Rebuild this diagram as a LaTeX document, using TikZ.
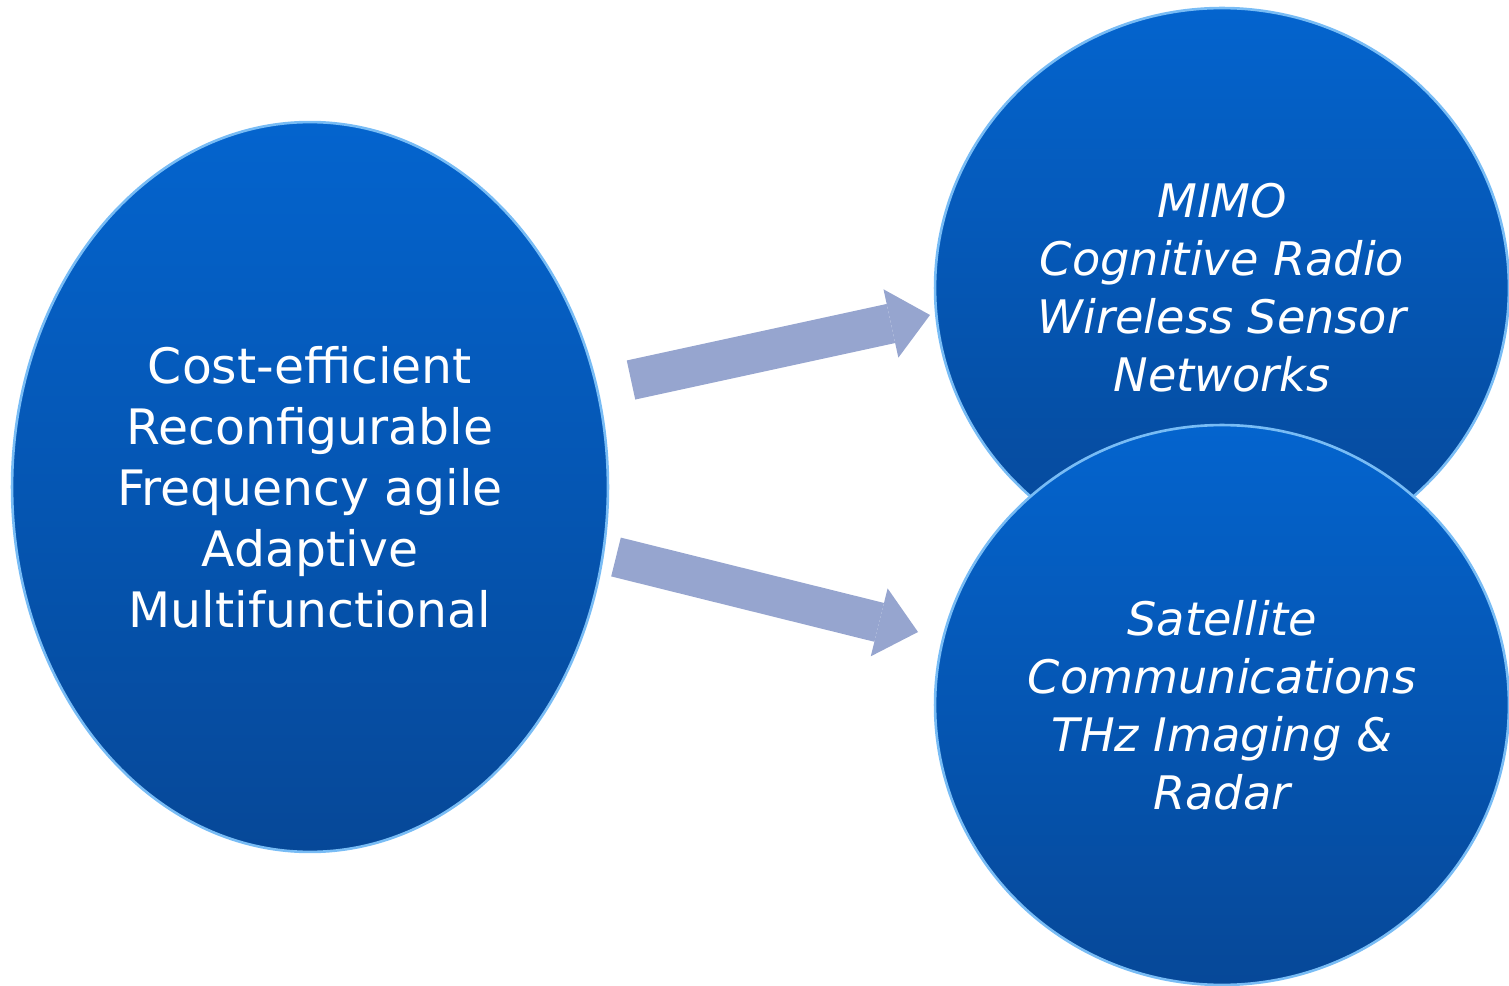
\documentclass[tikz,border=0pt]{standalone}
\usepackage{fontspec}
\setmainfont{DejaVu Sans}
\usetikzlibrary{shapes.geometric,arrows.meta}

\definecolor{bubtop}{RGB}{4,100,206}
\definecolor{bubbot}{RGB}{6,72,152}
\definecolor{bubrim}{RGB}{120,188,245}
\definecolor{arrfill}{RGB}{150,165,207}

\begin{document}
\begin{tikzpicture}[x=0.02cm, y=-0.02cm]
      \tikzstyle{STY1} = [ellipse, inner sep=0pt, top color=bubtop, bottom color=bubbot, draw=bubrim, line width=1.5pt, text=white, align=center]
      \tikzstyle{STY2} = [line width=0.8cm, draw=arrfill, -{Triangle[line width=0pt, length=0.8cm, width=1.4cm, fill=arrfill]}]

      \useasboundingbox (0,0) rectangle (1509,986);

      %%%%% BUBBLES

      \node[STY1, minimum width=11.92cm, minimum height=14.6cm, font=\fontsize{27.8}{34.7}\selectfont](c0) at (310,487)
        {Cost-efficient\\Reconfigurable\\Frequency agile\\Adaptive\\Multifunctional};

      \node[STY1, minimum width=11.48cm, minimum height=11.2cm, font=\fontsize{26.3}{33}\selectfont\itshape](c1) at (1222,288)
        {MIMO\\Cognitive Radio\\Wireless Sensor\\Networks};
      \node[STY1, minimum width=11.48cm, minimum height=11.2cm, font=\fontsize{26.3}{33}\selectfont\itshape](c2) at (1222,705)
        {Satellite\\Communications\\THz Imaging \&\\Radar};

      %%%%% ARROWS
      \coordinate (t1) at (631,380);
      \coordinate (h1) at (930,315);
      \coordinate (t2) at (616,557);
      \coordinate (h2) at (918,632);

      \draw[STY2] (t1) -- (h1);
      \draw[STY2] (t2) -- (h2);
\end{tikzpicture}
\end{document}
